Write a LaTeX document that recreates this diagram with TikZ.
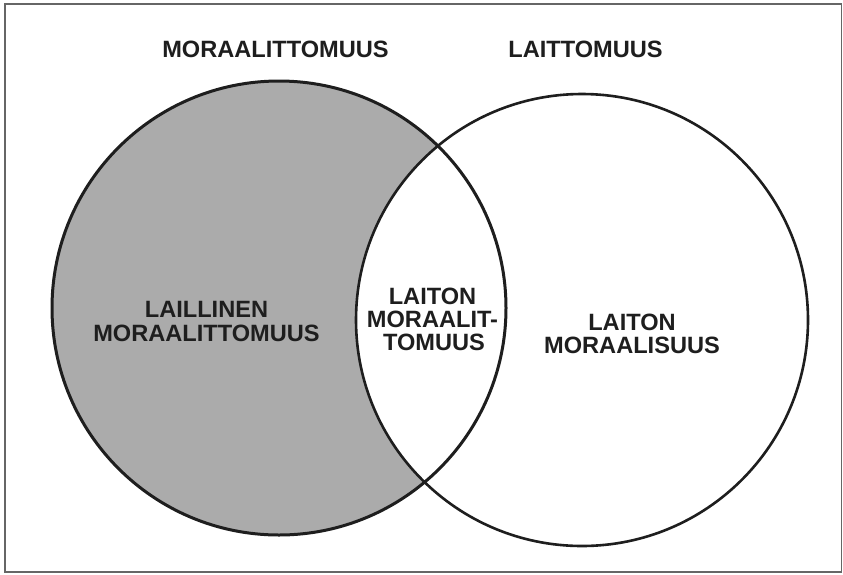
\documentclass[tikz,border=0pt]{standalone}
\usepackage{fontspec}
\setmainfont{Liberation Sans}
\definecolor{dither}{HTML}{ABABAB}
\definecolor{ink}{HTML}{1E1E1E}
\tikzset{
  lbl/.style={font=\bfseries\fontsize{23.6}{24}\selectfont, anchor=base, inner sep=0pt, text=ink},
  setdisk/.style={circle, inner sep=0pt, minimum size=#1},
  ring/.style={draw=ink, line width=#1},
  frame/.style={draw=black!60, line width=1.4pt}
}
\begin{document}
\begin{tikzpicture}[x=1pt,y=-1pt]
\useasboundingbox (0,0) rectangle (843,574);
\fill[white] (0,0) rectangle (843,574);
\draw[frame] (5,4) rectangle (841.5,572);
\node[setdisk=454pt, fill=dither] (L) at (279,308) {};
\node[setdisk=452pt, fill=white] (R) at (582,320) {};
\draw[ring=3pt] (L.center) circle[radius=227pt];
\draw[ring=2.6pt] (R.center) circle[radius=226pt];
\node[lbl] (t1) at (275.5,57) {MORAALITTOMUUS};
\node[lbl] (t2) at (585.5,57) {LAITTOMUUS};
\node[lbl] (a1) at (206.5,317) {LAILLINEN};
\node[lbl] (a2) at (206.5,341) {MORAALITTOMUUS};
\node[lbl] (b1) at (432.5,304) {LAITON};
\node[lbl] (b2) at (432.5,327) {MORAALIT-};
\node[lbl] (b3) at (434,350) {TOMUUS};
\node[lbl] (c1) at (632,330) {LAITON};
\node[lbl] (c2) at (632,353) {MORAALISUUS};
\end{tikzpicture}
\end{document}
